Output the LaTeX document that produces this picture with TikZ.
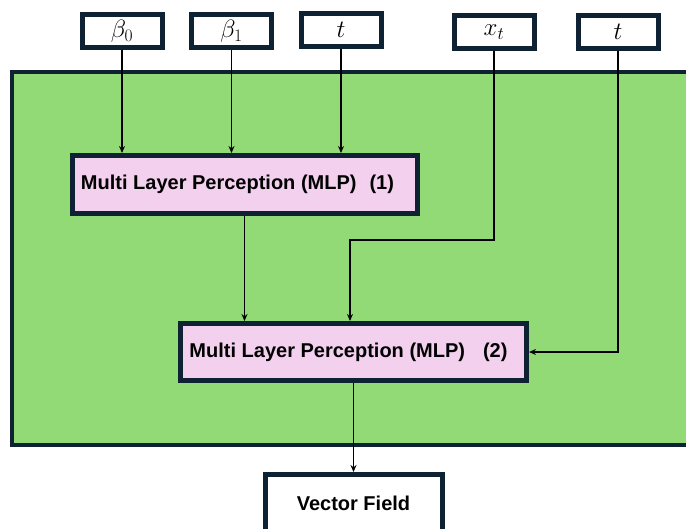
\RequirePackage{fix-cm}
\documentclass[tikz,border=0pt]{standalone}
\usepackage{fontspec}
\newfontfamily\labfont{Liberation Sans}
\usetikzlibrary{arrows.meta}
\definecolor{bgreen}{HTML}{92DA76}
\definecolor{navy}{HTML}{0E2233}
\definecolor{mlppink}{HTML}{F2D0EE}
\tikzset{
  inbox/.style={draw=navy, line width=5pt, fill=white, rectangle, inner sep=0pt,
    minimum width=80pt, minimum height=33pt, font=\fontsize{25}{30}\selectfont},
  mlpbox/.style={draw=navy, line width=5pt, fill=mlppink, rectangle, inner sep=0pt,
    minimum width=345pt, minimum height=58pt, font=\labfont\bfseries\fontsize{20}{24}\selectfont},
  outbox/.style={draw=navy, line width=5pt, fill=white, rectangle, inner sep=0pt,
    minimum width=177pt, minimum height=57pt, font=\labfont\bfseries\fontsize{20}{24}\selectfont},
  arr/.style={draw=black, line width=1.4pt, -{Stealth[length=7pt,width=6pt]}},
}
\begin{document}
\begin{tikzpicture}[x=1pt,y=-1pt]
\useasboundingbox (0,0) rectangle (686,528);
\clip (0,0) rectangle (686,528);
\fill[white] (0,0) rectangle (686,528);
% green container
\draw[draw=navy, line width=4pt, fill=bgreen] (12,72) rectangle (720,445);
% inputs
\node[inbox] (b0) at (122,31) {$\beta_0$};
\node[inbox] (b1) at (231.5,31) {$\beta_1$};
\node[inbox] (t1) at (341,29.5) {$t$};
\node[inbox] (xt) at (494,32) {$x_t$};
\node[inbox] (t2) at (618,32) {$t$};
% MLPs
\node[mlpbox] (mlp1) at (244.5,184.5) {Multi Layer Perception (MLP)\hspace{13pt}(1)\hspace*{14pt}};
\node[mlpbox, minimum width=346pt, minimum height=57pt] (mlp2) at (353.5,352) {Multi Layer Perception (MLP)\hspace{18pt}(2)\hspace*{10pt}};
% output
\node[outbox] (vf) at (353.5,503) {Vector Field};
% connectors
\draw[arr] (b0.south) -- (b0.south |- mlp1.north);
\draw[arr] (b1.south) -- (b1.south |- mlp1.north);
\draw[arr] (t1.south) -- (t1.south |- mlp1.north);
\coordinate (xbend) at (350,240);
\draw[arr] (xt.south) |- (xbend) -- (xbend |- mlp2.north);
\draw[arr] (mlp1.south) -- (mlp1.south |- mlp2.north);
\draw[arr] (t2.south) |- (mlp2.east);
\draw[arr] (mlp2.south) -- (vf.north);
\end{tikzpicture}
\end{document}
